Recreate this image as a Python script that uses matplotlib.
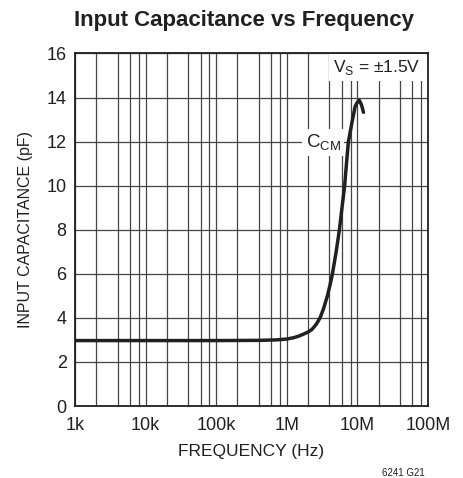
import matplotlib
matplotlib.use("Agg")
import matplotlib.pyplot as plt
from matplotlib.ticker import FixedLocator, NullFormatter

# values (Hz, pF)
freq_hz = [1e3, 1e4, 1e5, 4e5, 7e5, 1.0e6, 1.25e6, 1.5e6, 1.72e6, 2.0e6,
           2.26e6, 2.6e6, 2.96e6, 3.3e6, 3.76e6, 4.1e6, 4.43e6, 5.0e6,
           5.56e6, 6.05e6, 6.6e6, 7.0e6, 7.46e6, 8.35e6, 9.3e6, 10.0e6,
           10.6e6, 11.4e6, 12.2e6]
c_cm_pf = [2.97, 2.97, 2.97, 2.98, 3.0, 3.04, 3.1, 3.18, 3.26, 3.36,
           3.47, 3.7, 4.0, 4.4, 5.0, 5.5, 6.0, 7.0,
           8.0, 9.0, 10.0, 11.0, 12.0, 12.85, 13.6, 13.79,
           13.88, 13.68, 13.33]

x_ticks = [1e3, 1e4, 1e5, 1e6, 1e7, 1e8]
x_labels = ["1k", "10k", "100k", "1M", "10M", "100M"]
y_ticks = [0, 2, 4, 6, 8, 10, 12, 14, 16]

FONT = ["Liberation Sans Narrow", "Liberation Sans", "DejaVu Sans"]
plt.rcParams["font.family"] = FONT
INK = "#231f20"

fig = plt.figure(figsize=(4.63, 4.78), dpi=100)
ax = fig.add_axes([0.162, 0.1506, 0.7624, 0.7375])

ax.set_xscale("log")
ax.set_xlim(1e3, 1e8)
ax.set_ylim(0, 16)

# grid: decades plus 2,4,6,8 in each decade
minor = [m * 10 ** d for d in range(3, 8) for m in (2, 4, 6, 8)]
ax.xaxis.set_major_locator(FixedLocator(x_ticks))
ax.xaxis.set_minor_locator(FixedLocator(minor))
ax.xaxis.set_minor_formatter(NullFormatter())
ax.set_xticks(x_ticks)
ax.set_xticklabels(x_labels)
ax.set_yticks(y_ticks)
ax.grid(True, which="both", color="#444444", linewidth=0.9)
ax.tick_params(which="both", length=0, labelsize=13, colors=INK)
ax.tick_params(axis="x", pad=8)
ax.tick_params(axis="y", pad=6)
for s in ax.spines.values():
    s.set_linewidth(1.3)
    s.set_color(INK)

ax.plot(freq_hz, c_cm_pf, color=INK, linewidth=2.5,
        solid_capstyle="round", solid_joinstyle="round", zorder=3)

ax.text(3.27e6, 11.95, "C$_{\\mathregular{CM}}$", fontsize=13.5, ha="center", va="center",
        color=INK, zorder=4,
        bbox=dict(facecolor="white", edgecolor="none", pad=2.5))
ax.text(7.9e7, 15.8, "V$_{\\mathregular{S}}$ = ±1.5V", fontsize=12.5, ha="right", va="top",
        color=INK, zorder=4,
        bbox=dict(facecolor="white", edgecolor="none", pad=3))

ax.set_xlabel("FREQUENCY (Hz)", fontsize=12.5, color=INK, labelpad=7)
ax.set_ylabel("INPUT CAPACITANCE (pF)", fontsize=11.5, color=INK, labelpad=10)

fig.text(0.527, 0.957, "Input Capacitance vs Frequency", fontsize=16, fontweight="bold",
         ha="center", va="center", color=INK)
fig.text(0.918, 0.01, "6241 G21", fontsize=7, ha="right", va="center", color=INK)

fig.savefig("out.png", dpi=100)
